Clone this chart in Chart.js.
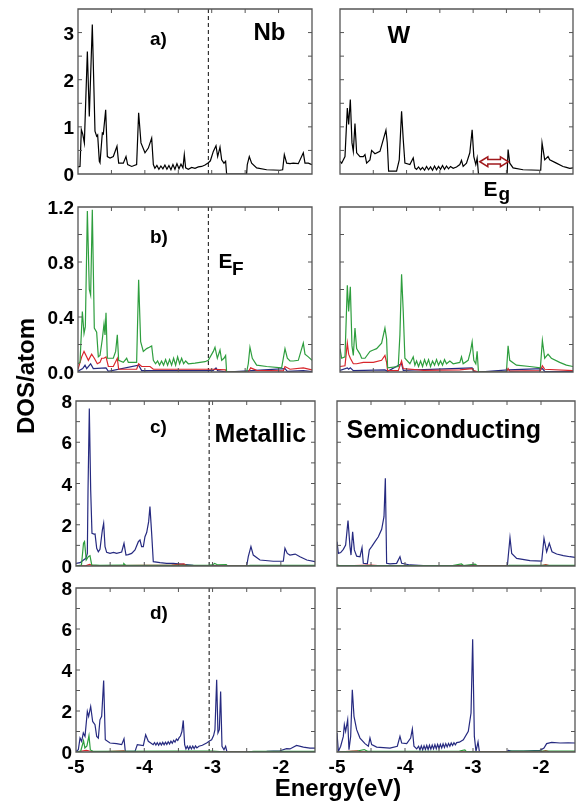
<!DOCTYPE html>
<html><head><meta charset="utf-8">
<script src="https://cdn.jsdelivr.net/npm/chart.js@4"></script>
<style>
html,body{margin:0;padding:0;background:#fff;width:576px;height:804px;overflow:hidden}
#wrap{position:relative;width:576px;height:804px;font-family:"Liberation Sans",Arial,Helvetica,sans-serif;font-weight:bold;color:#000}
canvas{position:absolute}
.lbl{position:absolute;white-space:nowrap;line-height:1;font-weight:bold}
</style></head><body><div id="wrap"></div>
<script>
// ---------------- data ----------------
const energyMin = -5, energyMax = -1.5;
const fermiLevel = -3.05;
const xTickValues = [-5, -4, -3, -2];
const yTicksA = [0, 1, 2, 3];
const yTicksB = [0, 0.4, 0.8, 1.2];
const yTicksCD = [0, 2, 4, 6, 8];

// a) total DOS
const nbTotal = [[-5.00,0.15],[-4.97,0.16],[-4.95,0.94],[-4.93,0.85],[-4.905,0.66],[-4.86,2.60],[-4.831,1.22],[-4.786,3.17],[-4.746,0.91],[-4.721,0.80],[-4.706,0.83],[-4.681,0.27],[-4.671,0.24],[-4.636,0.87],[-4.621,0.85],[-4.586,1.36],[-4.561,0.37],[-4.521,0.34],[-4.472,0.37],[-4.417,0.59],[-4.392,0.23],[-4.322,0.23],[-4.282,0.37],[-4.257,0.20],[-4.197,0.16],[-4.123,0.20],[-4.093,1.30],[-4.058,0.66],[-3.998,0.45],[-3.948,0.55],[-3.898,0.76],[-3.873,0.20],[-3.85,0.12],[-3.82,0.18],[-3.79,0.10],[-3.76,0.17],[-3.73,0.11],[-3.70,0.19],[-3.67,0.10],[-3.64,0.18],[-3.61,0.09],[-3.58,0.20],[-3.55,0.10],[-3.52,0.22],[-3.49,0.11],[-3.46,0.21],[-3.43,0.13],[-3.41,0.41],[-3.39,0.13],[-3.35,0.10],[-3.30,0.14],[-3.25,0.12],[-3.20,0.15],[-3.15,0.16],[-3.10,0.19],[-3.05,0.24],[-3.02,0.28],[-2.976,0.48],[-2.936,0.60],[-2.911,0.37],[-2.876,0.57],[-2.851,0.30],[-2.817,0.23],[-2.792,0.27],[-2.777,0],[-2.478,0],[-2.468,0.20],[-2.438,0.37],[-2.403,0.23],[-2.328,0.13],[-2.178,0.09],[-1.979,0.08],[-1.939,0.09],[-1.914,0.41],[-1.879,0.23],[-1.829,0.22],[-1.780,0.23],[-1.705,0.22],[-1.630,0.45],[-1.605,0.23],[-1.555,0.23],[-1.50,0.20]];
const wTotal = [[-5.0,0.27],[-4.975,0.23],[-4.925,0.37],[-4.89,1.40],[-4.87,1.05],[-4.845,1.58],[-4.82,0.66],[-4.80,0.48],[-4.775,1.07],[-4.75,0.45],[-4.70,0.37],[-4.65,0.37],[-4.625,0.41],[-4.60,0.23],[-4.55,0.30],[-4.525,0.50],[-4.475,0.43],[-4.40,0.48],[-4.35,0.73],[-4.31,0.93],[-4.29,0.66],[-4.27,0.06],[-4.15,0.06],[-4.11,0.30],[-4.075,1.33],[-4.05,0.73],[-4.025,0.23],[-3.95,0.20],[-3.90,0.34],[-3.875,0.13],[-3.85,0.10],[-3.82,0.15],[-3.79,0.09],[-3.76,0.14],[-3.73,0.08],[-3.70,0.16],[-3.67,0.09],[-3.64,0.15],[-3.61,0.08],[-3.58,0.17],[-3.55,0.09],[-3.52,0.16],[-3.49,0.10],[-3.46,0.18],[-3.43,0.10],[-3.40,0.17],[-3.37,0.11],[-3.34,0.16],[-3.30,0.12],[-3.25,0.15],[-3.20,0.20],[-3.175,0.29],[-3.15,0.16],[-3.10,0.23],[-3.05,0.45],[-3.015,0.94],[-2.99,0.37],[-2.96,0.20],[-2.94,0.34],[-2.92,0],[-2.49,0],[-2.475,0.52],[-2.45,0.23],[-2.40,0.13],[-2.25,0.09],[-2.00,0.08],[-1.985,0.08],[-1.965,0.66],[-1.925,0.30],[-1.875,0.37],[-1.85,0.30],[-1.75,0.23],[-1.65,0.16],[-1.60,0.14],[-1.55,0.12],[-1.50,0.13]];

// b) projected DOS
const nbB_green = [[-5.0,0.06],[-4.97,0.07],[-4.935,0.44],[-4.91,0.28],[-4.89,0.33],[-4.86,1.17],[-4.831,0.60],[-4.811,0.56],[-4.786,1.18],[-4.756,0.32],[-4.721,0.29],[-4.696,0.11],[-4.671,0.12],[-4.636,0.24],[-4.611,0.35],[-4.596,0.27],[-4.581,0.43],[-4.561,0.10],[-4.472,0.10],[-4.437,0.15],[-4.412,0.27],[-4.392,0.085],[-4.322,0.07],[-4.272,0.10],[-4.247,0.07],[-4.123,0.07],[-4.093,0.67],[-4.063,0.22],[-4.023,0.15],[-3.973,0.17],[-3.933,0.18],[-3.898,0.19],[-3.873,0.085],[-3.84,0.06],[-3.81,0.08],[-3.78,0.05],[-3.75,0.08],[-3.72,0.05],[-3.69,0.09],[-3.66,0.05],[-3.63,0.09],[-3.60,0.05],[-3.57,0.10],[-3.54,0.05],[-3.51,0.11],[-3.48,0.06],[-3.45,0.10],[-3.42,0.06],[-3.39,0.08],[-3.35,0.06],[-3.25,0.065],[-3.175,0.07],[-3.10,0.075],[-3.051,0.085],[-2.976,0.15],[-2.951,0.18],[-2.916,0.10],[-2.876,0.16],[-2.851,0.085],[-2.817,0.10],[-2.792,0.12],[-2.777,0],[-2.478,0],[-2.453,0.06],[-2.428,0.18],[-2.393,0.10],[-2.328,0.05],[-2.178,0.04],[-1.954,0.03],[-1.904,0.17],[-1.869,0.10],[-1.829,0.08],[-1.78,0.08],[-1.705,0.085],[-1.63,0.21],[-1.605,0.13],[-1.555,0.11],[-1.50,0.085]];
const nbB_red = [[-5.0,0.02],[-4.945,0.11],[-4.91,0.15],[-4.88,0.12],[-4.845,0.085],[-4.796,0.13],[-4.756,0.10],[-4.711,0.06],[-4.671,0.07],[-4.646,0.10],[-4.611,0.10],[-4.581,0.11],[-4.546,0.04],[-4.472,0.04],[-4.412,0.10],[-4.392,0.02],[-4.123,0.02],[-4.093,0.06],[-4.048,0.04],[-3.923,0.04],[-3.873,0.02],[-3.375,0.02],[-2.976,0.02],[-2.792,0.015],[-2.777,0],[-2.453,0],[-2.418,0.03],[-2.328,0.012],[-1.929,0.008],[-1.904,0.04],[-1.829,0.02],[-1.63,0.03],[-1.50,0.015]];
const nbB_blue = [[-5.0,0.005],[-4.93,0.025],[-4.895,0.05],[-4.87,0.025],[-4.811,0.06],[-4.771,0.025],[-4.581,0.03],[-4.546,0.005],[-4.093,0.05],[-4.048,0.01],[-2.976,0.012],[-2.936,0.03],[-2.911,0.01],[-2.777,0],[-1.904,0.025],[-1.869,0.005],[-1.63,0.01],[-1.50,0.003]];
const wB_green = [[-5.0,0.17],[-4.975,0.10],[-4.925,0.11],[-4.89,0.63],[-4.87,0.44],[-4.845,0.62],[-4.82,0.19],[-4.80,0.12],[-4.775,0.32],[-4.75,0.17],[-4.70,0.13],[-4.675,0.10],[-4.625,0.10],[-4.55,0.15],[-4.50,0.16],[-4.45,0.17],[-4.375,0.21],[-4.325,0.32],[-4.30,0.24],[-4.285,0.03],[-4.125,0.04],[-4.10,0.27],[-4.075,0.71],[-4.05,0.44],[-4.025,0.10],[-3.95,0.06],[-3.90,0.11],[-3.875,0.05],[-3.85,0.08],[-3.82,0.04],[-3.79,0.08],[-3.76,0.04],[-3.73,0.09],[-3.70,0.05],[-3.67,0.09],[-3.64,0.04],[-3.61,0.08],[-3.58,0.05],[-3.55,0.09],[-3.52,0.05],[-3.49,0.08],[-3.46,0.05],[-3.43,0.09],[-3.40,0.06],[-3.35,0.08],[-3.30,0.06],[-3.20,0.07],[-3.175,0.11],[-3.15,0.06],[-3.075,0.085],[-3.04,0.15],[-3.015,0.22],[-2.99,0.085],[-2.96,0.06],[-2.94,0.15],[-2.92,0],[-2.50,0],[-2.475,0.19],[-2.45,0.085],[-2.35,0.05],[-2.15,0.04],[-1.99,0.03],[-1.96,0.23],[-1.925,0.10],[-1.875,0.13],[-1.825,0.10],[-1.70,0.07],[-1.60,0.05],[-1.50,0.04]];
const wB_red = [[-5.0,0.04],[-4.925,0.045],[-4.89,0.21],[-4.87,0.13],[-4.845,0.10],[-4.80,0.06],[-4.75,0.06],[-4.65,0.07],[-4.50,0.07],[-4.375,0.085],[-4.325,0.12],[-4.30,0.07],[-4.285,0.01],[-4.125,0.01],[-4.075,0.08],[-4.05,0.025],[-3.75,0.012],[-3.20,0.015],[-3.015,0.025],[-2.99,0.01],[-2.92,0],[-2.50,0],[-2.475,0.025],[-2.45,0.007],[-1.99,0.01],[-1.96,0.045],[-1.925,0.02],[-1.50,0.01]];
const wB_blue = [[-5.0,0.012],[-4.89,0.03],[-4.87,0.02],[-4.845,0.03],[-4.80,0.01],[-4.325,0.015],[-4.285,0.005],[-4.075,0.06],[-4.05,0.012],[-3.015,0.03],[-2.99,0.005],[-2.92,0],[-2.475,0.015],[-1.96,0.025],[-1.925,0.005],[-1.50,0.002]];

// c) metallic / semiconducting
const metC_blue = [[-5.0,0.13],[-4.94,0.16],[-4.89,0.29],[-4.855,0.37],[-4.834,0.61],[-4.824,3.68],[-4.805,7.64],[-4.785,3.68],[-4.766,1.58],[-4.736,1.55],[-4.722,1.58],[-4.697,0.86],[-4.673,0.69],[-4.649,0.81],[-4.614,1.74],[-4.595,2.07],[-4.575,0.94],[-4.551,0.66],[-4.502,0.61],[-4.45,0.66],[-4.405,0.61],[-4.331,0.68],[-4.297,1.10],[-4.268,0.53],[-4.234,0.55],[-4.185,0.61],[-4.136,0.78],[-4.087,1.18],[-4.063,1.26],[-4.039,0.94],[-4.014,0.94],[-3.99,1.42],[-3.965,1.62],[-3.936,2.15],[-3.917,2.88],[-3.892,1.58],[-3.868,0.21],[-3.77,0.16],[-3.673,0.13],[-3.575,0.13],[-3.428,0.08],[-3.282,0.03],[-3.087,0.02],[-2.794,0.0],[-2.501,0.0],[-2.477,0.45],[-2.438,0.94],[-2.404,0.53],[-2.306,0.29],[-2.111,0.23],[-1.964,0.23],[-1.94,0.86],[-1.906,0.61],[-1.867,0.53],[-1.79,0.58],[-1.72,0.45],[-1.62,0.29],[-1.50,0.21]];
const metC_green = [[-5.0,0.0],[-4.92,0.05],[-4.89,1.10],[-4.875,1.18],[-4.85,0.29],[-4.82,0.45],[-4.795,0.50],[-4.77,0.05],[-4.65,0.03],[-4.31,0.04],[-4.30,0.12],[-4.27,0.03],[-3.05,0.04],[-3.00,0.05],[-2.97,0.12],[-2.93,0.06],[-2.80,0.07],[-2.78,0.0],[-2.50,0.0],[-2.45,0.03],[-1.50,0.03]];
const metC_red = [[-5.0,0.0],[-4.85,0.02],[-4.80,0.08],[-4.75,0.01],[-3.60,0.04],[-3.42,0.10],[-3.38,0.01],[-2.78,0.0],[-1.50,0.0]];
const semC_blue = [[-5.0,1.18],[-4.98,0.61],[-4.946,0.65],[-4.907,0.81],[-4.873,1.02],[-4.838,2.20],[-4.809,0.94],[-4.794,0.53],[-4.77,1.66],[-4.745,0.78],[-4.711,0.48],[-4.662,0.45],[-4.632,0.89],[-4.613,0.13],[-4.554,0.10],[-4.525,0.78],[-4.49,0.94],[-4.441,1.18],[-4.392,1.42],[-4.343,1.78],[-4.309,2.39],[-4.289,4.25],[-4.27,0.13],[-4.221,0.10],[-4.123,0.13],[-4.074,0.45],[-4.049,0.13],[-3.926,0.05],[-3.73,0.02],[-3.24,0.02],[-2.922,0.0],[-2.495,0.0],[-2.48,0.53],[-2.456,1.37],[-2.431,0.61],[-2.358,0.37],[-2.162,0.26],[-1.99,0.24],[-1.956,1.34],[-1.917,0.69],[-1.878,1.10],[-1.838,0.69],[-1.77,0.58],[-1.672,0.50],[-1.574,0.45],[-1.50,0.42]];
const semC_green = [[-5.0,0.06],[-4.97,0.02],[-3.30,0.02],[-3.17,0.10],[-3.14,0.02],[-2.97,0.09],[-2.94,0.02],[-2.92,0.0],[-2.49,0.0],[-2.47,0.03],[-1.50,0.03]];
const semC_red = [[-5.0,0.0],[-4.50,0.04],[-4.40,0.02],[-2.0,0.01],[-1.93,0.07],[-1.87,0.01],[-1.50,0.0]];

// d)
const metD_blue = [[-5.0,0.03],[-4.966,0.11],[-4.941,0.68],[-4.917,0.52],[-4.893,0.93],[-4.868,0.76],[-4.834,1.98],[-4.815,1.74],[-4.785,2.22],[-4.756,1.49],[-4.722,1.33],[-4.697,0.76],[-4.673,0.68],[-4.649,1.57],[-4.624,1.74],[-4.595,3.49],[-4.571,0.60],[-4.502,0.44],[-4.405,0.41],[-4.331,0.36],[-4.297,0.65],[-4.278,0.03],[-4.136,0.03],[-4.102,0.36],[-4.014,0.31],[-3.98,0.84],[-3.941,0.52],[-3.90,0.43],[-3.87,0.36],[-3.85,0.46],[-3.83,0.34],[-3.81,0.45],[-3.79,0.33],[-3.77,0.45],[-3.75,0.34],[-3.73,0.47],[-3.71,0.35],[-3.69,0.48],[-3.67,0.37],[-3.65,0.50],[-3.63,0.39],[-3.61,0.53],[-3.59,0.43],[-3.57,0.57],[-3.55,0.48],[-3.53,0.63],[-3.51,0.56],[-3.49,0.70],[-3.47,0.78],[-3.449,1.00],[-3.429,1.54],[-3.409,0.36],[-3.39,0.15],[-3.37,0.28],[-3.35,0.13],[-3.33,0.28],[-3.31,0.15],[-3.29,0.29],[-3.27,0.16],[-3.25,0.30],[-3.23,0.20],[-3.20,0.28],[-3.15,0.33],[-3.087,0.44],[-3.04,0.55],[-3.014,0.60],[-2.985,0.80],[-2.965,1.09],[-2.94,3.52],[-2.921,0.93],[-2.901,1.09],[-2.882,2.95],[-2.862,0.28],[-2.833,0.11],[-2.809,0.28],[-2.789,0.0],[-2.501,0.0],[-2.404,0.02],[-2.208,0.03],[-2.013,0.06],[-1.916,0.16],[-1.867,0.15],[-1.77,0.32],[-1.67,0.24],[-1.574,0.19],[-1.50,0.19]];
const metD_green = [[-5.0,0.0],[-4.93,0.05],[-4.89,0.55],[-4.87,0.20],[-4.84,0.30],[-4.81,0.80],[-4.79,0.10],[-4.75,0.03],[-3.50,0.05],[-3.00,0.05],[-2.79,0.0],[-2.50,0.0],[-2.40,0.03],[-1.50,0.03]];
const metD_red = [[-5.0,0.0],[-4.85,0.08],[-4.80,0.05],[-4.70,0.0],[-4.30,0.05],[-4.25,0.0],[-1.50,0.0]];
const semD_blue = [[-5.0,0.93],[-4.98,0.03],[-4.946,0.28],[-4.907,0.76],[-4.892,1.33],[-4.873,1.01],[-4.843,1.57],[-4.824,0.11],[-4.799,0.76],[-4.775,3.04],[-4.75,1.74],[-4.711,1.09],[-4.662,0.68],[-4.588,0.41],[-4.539,0.28],[-4.515,0.68],[-4.49,0.36],[-4.417,0.24],[-4.221,0.19],[-4.113,0.28],[-4.074,0.76],[-4.049,0.44],[-3.975,0.41],[-3.917,0.68],[-3.892,1.12],[-3.868,0.28],[-3.828,0.15],[-3.80,0.28],[-3.78,0.10],[-3.76,0.30],[-3.74,0.10],[-3.72,0.30],[-3.70,0.12],[-3.68,0.32],[-3.66,0.12],[-3.64,0.33],[-3.62,0.14],[-3.60,0.34],[-3.58,0.15],[-3.56,0.36],[-3.54,0.16],[-3.52,0.37],[-3.50,0.18],[-3.48,0.38],[-3.46,0.20],[-3.44,0.40],[-3.42,0.22],[-3.40,0.41],[-3.38,0.25],[-3.36,0.42],[-3.34,0.28],[-3.32,0.44],[-3.30,0.32],[-3.28,0.45],[-3.26,0.35],[-3.24,0.46],[-3.20,0.48],[-3.142,0.60],[-3.069,1.01],[-3.029,1.90],[-3.005,5.50],[-2.98,0.76],[-2.956,0.03],[-2.926,0.49],[-2.907,0.03],[-2.873,0.0],[-2.505,0.0],[-2.48,0.08],[-2.431,0.05],[-2.26,0.05],[-2.015,0.08],[-1.956,0.19],[-1.917,0.41],[-1.843,0.47],[-1.721,0.44],[-1.60,0.45],[-1.50,0.44]];
const semD_green = [[-5.0,0.0],[-4.70,0.05],[-4.60,0.12],[-4.55,0.03],[-3.20,0.05],[-3.12,0.10],[-3.10,0.03],[-2.90,0.0],[-2.48,0.0],[-2.45,0.05],[-1.50,0.05]];
const semD_red = [[-5.0,0.0],[-4.70,0.06],[-4.65,0.01],[-1.98,0.02],[-1.93,0.07],[-1.88,0.01],[-1.50,0.0]];

// ---------------- styling / layout ----------------
const C_GREEN = '#2e9e3e', C_RED = '#d8262c', C_BLUE = '#262a80', C_BLACK = '#000000';
const gapArrow = [-2.9, -2.47, 0.26]; // energy from, energy to, DOS level

Chart.defaults.font.family = '"Liberation Sans", Arial, Helvetica, sans-serif';
Chart.defaults.font.weight = 'bold';
Chart.defaults.color = '#000';

const panels = [
  {box:[78,9,312,174],   ymax:3.5, ticks:yTicksA,  minor:0.5, yl:true,  xl:false, ef:true,  dec:0, series:[[nbTotal,C_BLACK]]},
  {box:[340,9,573,174],  ymax:3.5, ticks:yTicksA,  minor:0.5, yl:false, xl:false, ef:false, dec:0, arrow:true, series:[[wTotal,C_BLACK]]},
  {box:[78,207,312,372], ymax:1.2, ticks:yTicksB,  minor:0.2, yl:true,  xl:false, ef:true,  dec:1, series:[[nbB_green,C_GREEN],[nbB_red,C_RED],[nbB_blue,C_BLUE]]},
  {box:[340,207,573,372],ymax:1.2, ticks:yTicksB,  minor:0.2, yl:false, xl:false, ef:false, dec:1, series:[[wB_green,C_GREEN],[wB_red,C_RED],[wB_blue,C_BLUE]]},
  {box:[76,401,315,566], ymax:8,   ticks:yTicksCD, minor:1,   yl:true,  xl:false, ef:true,  dec:0, series:[[metC_green,C_GREEN],[metC_red,C_RED],[metC_blue,C_BLUE]]},
  {box:[337,401,575,566],ymax:8,   ticks:yTicksCD, minor:1,   yl:false, xl:false, ef:false, dec:0, series:[[semC_green,C_GREEN],[semC_red,C_RED],[semC_blue,C_BLUE]]},
  {box:[76,588,315,752], ymax:8,   ticks:yTicksCD, minor:1,   yl:true,  xl:true,  ef:true,  dec:0, series:[[metD_green,C_GREEN],[metD_red,C_RED],[metD_blue,C_BLUE]]},
  {box:[337,588,575,752],ymax:8,   ticks:yTicksCD, minor:1,   yl:false, xl:true,  ef:false, dec:0, series:[[semD_green,C_GREEN],[semD_red,C_RED],[semD_blue,C_BLUE]]}
];

function makeFramePlugin(p) {
  return {
    id: 'frame',
    beforeDatasetsDraw(chart) {
      if (!p.ef) return;
      const ctx = chart.ctx, a = chart.chartArea;
      const x = chart.scales.x.getPixelForValue(fermiLevel);
      ctx.save(); ctx.strokeStyle = '#222'; ctx.lineWidth = 1.1; ctx.setLineDash([4, 3]);
      ctx.beginPath(); ctx.moveTo(x, a.top); ctx.lineTo(x, a.bottom); ctx.stroke();
      ctx.setLineDash([]); ctx.restore();
    },
    afterDraw(chart) {
      const ctx = chart.ctx, a = chart.chartArea;
      const xs = chart.scales.x, ys = chart.scales.y;
      ctx.save();
      ctx.setLineDash([]);
      ctx.strokeStyle = '#555'; ctx.lineWidth = 1.3;
      ctx.beginPath();
      ctx.rect(a.left, a.top, a.right - a.left, a.bottom - a.top);
      ctx.stroke();
      ctx.lineWidth = 1;
      ctx.beginPath();
      for (let v = energyMin + 0.5; v < energyMax - 0.01; v += 0.5) {
        const px = xs.getPixelForValue(v);
        ctx.moveTo(px, a.top); ctx.lineTo(px, a.top + 4);
        ctx.moveTo(px, a.bottom); ctx.lineTo(px, a.bottom - 4);
      }
      for (let v = p.minor; v < p.ymax - 1e-6; v += p.minor) {
        const py = ys.getPixelForValue(v);
        ctx.moveTo(a.left, py); ctx.lineTo(a.left + 4, py);
        ctx.moveTo(a.right, py); ctx.lineTo(a.right - 4, py);
      }
      ctx.stroke();
      if (p.arrow) {
        const x1 = xs.getPixelForValue(gapArrow[0]), x2 = xs.getPixelForValue(gapArrow[1]);
        const yc = ys.getPixelForValue(gapArrow[2]);
        const hl = 8, hh = 5, sh = 2.3;
        ctx.beginPath();
        ctx.moveTo(x1, yc); ctx.lineTo(x1 + hl, yc - hh); ctx.lineTo(x1 + hl, yc - sh);
        ctx.lineTo(x2 - hl, yc - sh); ctx.lineTo(x2 - hl, yc - hh); ctx.lineTo(x2, yc);
        ctx.lineTo(x2 - hl, yc + hh); ctx.lineTo(x2 - hl, yc + sh); ctx.lineTo(x1 + hl, yc + sh);
        ctx.lineTo(x1 + hl, yc + hh); ctx.closePath();
        ctx.fillStyle = '#fff'; ctx.fill();
        ctx.strokeStyle = '#a0191c'; ctx.lineWidth = 1.5; ctx.stroke();
      }
      ctx.restore();
    }
  };
}

const wrap = document.getElementById('wrap');
panels.forEach(p => {
  const yW = p.yl ? p.box[0] : 14;
  const padR = 3, padT = 12, padB = p.xl ? 0 : 12, xH = p.xl ? 34 : 0;
  const w = p.box[2] - p.box[0], h = p.box[3] - p.box[1];
  const cw = yW + w + padR, ch = padT + h + padB + xH;
  const cv = document.createElement('canvas');
  cv.width = cw; cv.height = ch;
  cv.style.left = (p.box[0] - yW) + 'px'; cv.style.top = (p.box[1] - padT) + 'px';
  cv.style.width = cw + 'px'; cv.style.height = ch + 'px';
  wrap.appendChild(cv);
  new Chart(cv, {
    type: 'scatter',
    data: { datasets: p.series.map(([arr, col]) => ({
      data: arr.map(([x, y]) => ({x, y})), borderColor: col, backgroundColor: col,
      borderWidth: 1.2, showLine: true, pointRadius: 0, fill: false, tension: 0
    })) },
    options: {
      responsive: false, animation: false, devicePixelRatio: 1,
      layout: { padding: { left: 0, right: padR, top: padT, bottom: padB } },
      plugins: { legend: { display: false }, tooltip: { enabled: false } },
      scales: {
        x: { type: 'linear', min: energyMin, max: energyMax, display: p.xl,
          afterFit: s => { s.height = xH; s.paddingLeft = 0; s.paddingRight = 0; },
          afterBuildTicks: s => { s.ticks = xTickValues.map(v => ({value: v})); },
          grid: { display: false, drawTicks: false }, border: { display: false },
          ticks: { autoSkip: false, maxRotation: 0, padding: 4, color: '#000',
            font: { size: 19, weight: 'bold' }, callback: v => String(v) } },
        y: { type: 'linear', min: 0, max: p.ymax, display: true,
          afterFit: s => { s.width = yW; s.paddingTop = 0; s.paddingBottom = 0; },
          afterBuildTicks: s => { s.ticks = p.ticks.map(v => ({value: v})); },
          grid: { display: false, drawTicks: false }, border: { display: false },
          ticks: { display: p.yl, autoSkip: false, padding: 4, labelOffset: 2, color: '#000',
            font: { size: 19, weight: 'bold' }, callback: v => Number(v).toFixed(p.dec) } }
      }
    },
    plugins: [makeFramePlugin(p)]
  });
});

// ---------------- text annotations ----------------
const labels = [
  ['a)', 150, 29, 19], ['b)', 150, 226.5, 19], ['c)', 150, 417, 19], ['d)', 150, 603, 19],
  ['Nb', 253.5, 19.7, 24], ['W', 387.5, 23, 24],
  ['Metallic', 214.5, 420.5, 25], ['Semiconducting', 346.5, 417, 25],
  ['E', 218.5, 249.5, 21], ['F', 232, 259, 19],
  ['E', 483.5, 177.5, 21], ['g', 498.5, 184, 19]
];
labels.forEach(([t, x, y, fs]) => {
  const d = document.createElement('div');
  d.className = 'lbl'; d.textContent = t;
  d.style.left = x + 'px'; d.style.top = y + 'px'; d.style.fontSize = fs + 'px';
  wrap.appendChild(d);
});
const yt = document.createElement('div');
yt.className = 'lbl'; yt.textContent = 'DOS/atom';
Object.assign(yt.style, {left: '26px', top: '376px', fontSize: '24px', transform: 'translate(-50%,-50%) rotate(-90deg)'});
wrap.appendChild(yt);
const xt = document.createElement('div');
xt.className = 'lbl'; xt.textContent = 'Energy(eV)';
Object.assign(xt.style, {left: '338px', top: '775.5px', fontSize: '24px', transform: 'translateX(-50%)'});
wrap.appendChild(xt);
</script>
</body></html>
